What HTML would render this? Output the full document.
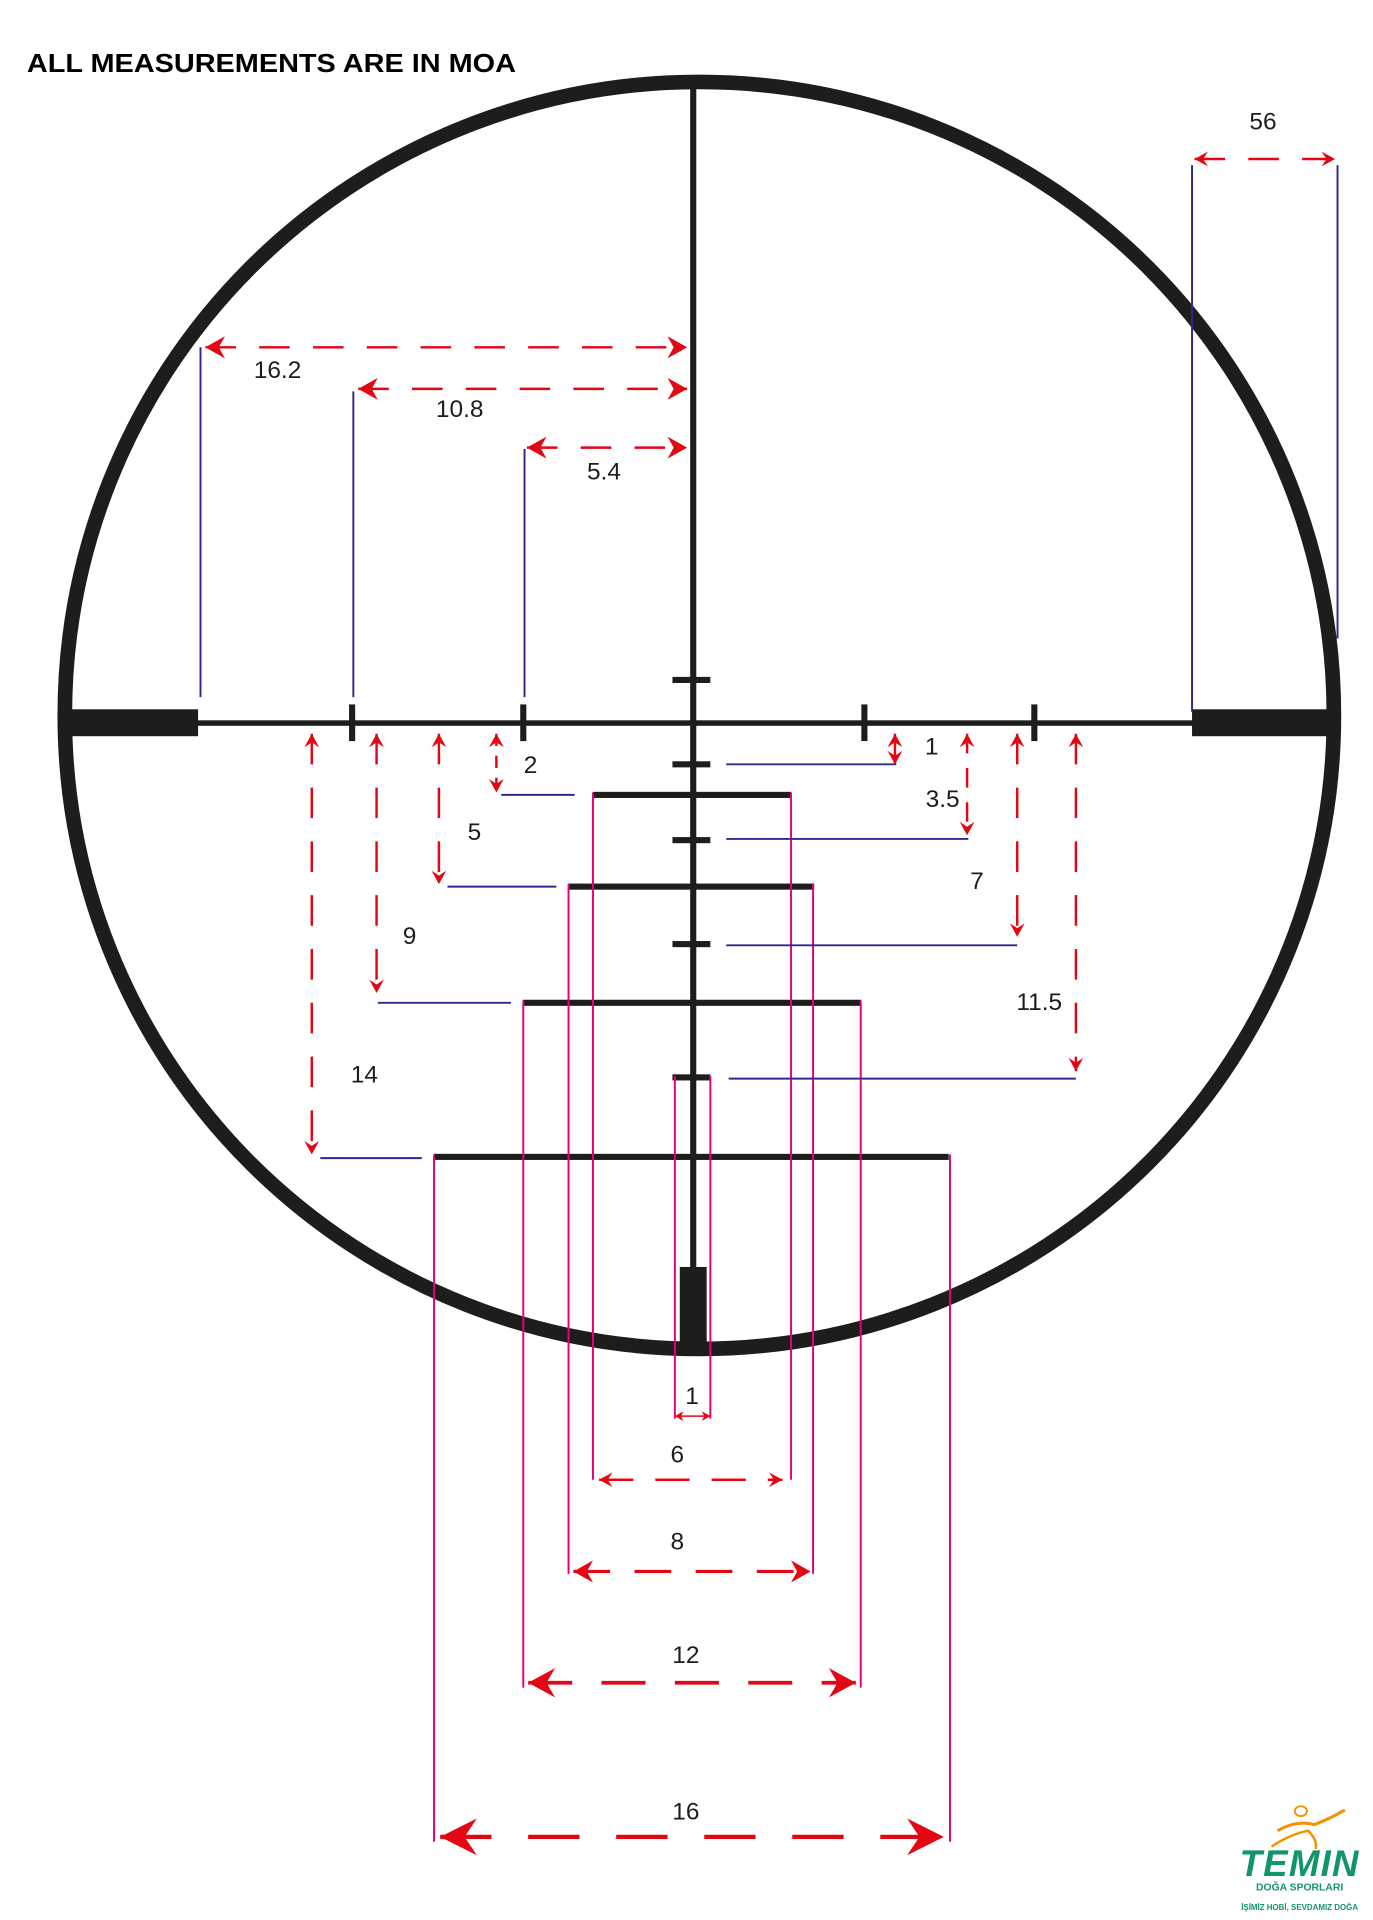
<!DOCTYPE html>
<html><head><meta charset="utf-8"><style>html,body{margin:0;padding:0;background:#fff}svg{display:block}</style></head>
<body>
<svg width="1373" height="1920" viewBox="0 0 1123 1570" preserveAspectRatio="none" xmlns="http://www.w3.org/2000/svg">
<defs>
<marker id="am" markerUnits="userSpaceOnUse" viewBox="-16 -9 17 18" refX="0" refY="0" markerWidth="17" markerHeight="18" orient="auto-start-reverse"><path d="M0,0 L-16,-9 L-11,0 L-16,9 Z" fill="#e30613"/></marker>
<marker id="as" markerUnits="userSpaceOnUse" viewBox="-11 -6 12 12" refX="0" refY="0" markerWidth="12" markerHeight="12" orient="auto-start-reverse"><path d="M0,0 L-11,-6 L-7,0 L-11,6 Z" fill="#e30613"/></marker>
<marker id="at" markerUnits="userSpaceOnUse" viewBox="-7 -4 8 8" refX="0" refY="0" markerWidth="8" markerHeight="8" orient="auto-start-reverse"><path d="M0,0 L-7,-4 L-5,0 L-7,4 Z" fill="#e30613"/></marker>
<marker id="al" markerUnits="userSpaceOnUse" viewBox="-22 -12 23 24" refX="0" refY="0" markerWidth="23" markerHeight="24" orient="auto-start-reverse"><path d="M0,0 L-22,-12 L-15,0 L-22,12 Z" fill="#e30613"/></marker>
<marker id="ax" markerUnits="userSpaceOnUse" viewBox="-30 -15 31 30" refX="0" refY="0" markerWidth="31" markerHeight="30" orient="auto-start-reverse"><path d="M0,0 L-30,-15 L-20,0 L-30,15 Z" fill="#e30613"/></marker>
</defs>
<text x="22" y="59" font-family="Liberation Sans, sans-serif" font-weight="bold" font-size="21" fill="#000" textLength="400" lengthAdjust="spacingAndGlyphs">ALL MEASUREMENTS ARE IN MOA</text>

<ellipse cx="572" cy="585" rx="519" ry="518" fill="none" stroke="#1d1d1b" stroke-width="12"/>

<g fill="#1d1d1b">
<rect x="55" y="589" width="1035" height="4.5"/>
<rect x="57" y="580" width="105" height="22"/>
<rect x="975" y="580" width="113" height="22"/>
<rect x="564.5" y="68" width="5" height="1035"/>
<rect x="556" y="1036" width="22" height="66"/>
<rect x="285.5" y="576" width="5" height="30"/>
<rect x="425.5" y="576" width="5" height="30"/>
<rect x="704.5" y="576" width="5" height="30"/>
<rect x="843.5" y="576" width="5" height="30"/>
<rect x="550" y="553.5" width="31" height="5"/>
<rect x="550" y="622.5" width="31" height="5"/>
<rect x="550" y="684.5" width="31" height="5"/>
<rect x="550" y="769.5" width="31" height="5"/>
<rect x="550" y="878.5" width="31" height="5"/>
<rect x="485" y="647.5" width="162" height="5"/>
<rect x="465" y="722.5" width="201" height="5"/>
<rect x="428" y="817.5" width="276" height="5"/>
<rect x="355" y="943.5" width="421" height="5"/>
</g>

<g stroke="#e6007e" stroke-width="1.6" fill="none">
<path d="M485,648V1210M647,648V1210M465,723V1287M665,723V1287M428,818V1380M704,818V1380M355,944V1506M777,944V1506M552,880V1160M581,880V1160"/>
</g>

<g stroke="#2e2a8a" stroke-width="1.6" fill="none">
<path d="M164,284V570M289,320V570M429,367V570M975,135V582M1094,135V522"/>
<path d="M262,947H345M309,820H418M366,725H455M410,650H470"/>
<path d="M594,625H733M594,686H792M594,773H832M596,882H880"/>
</g>

<g stroke="#e30613" fill="none">
<path d="M168,284H562" stroke-width="2" stroke-dasharray="25,19" marker-start="url(#am)" marker-end="url(#am)"/>
<path d="M293,318H562" stroke-width="2" stroke-dasharray="25,19" marker-start="url(#am)" marker-end="url(#am)"/>
<path d="M431,366H562" stroke-width="2" stroke-dasharray="25,19" marker-start="url(#am)" marker-end="url(#am)"/>
<path d="M977,130H1092" stroke-width="2" stroke-dasharray="25,19" marker-start="url(#as)" marker-end="url(#as)"/>
<path d="M255,600V944" stroke-width="2" stroke-dasharray="25,19" marker-start="url(#as)" marker-end="url(#as)"/>
<path d="M308,600V812" stroke-width="2" stroke-dasharray="25,19" marker-start="url(#as)" marker-end="url(#as)"/>
<path d="M359,600V723" stroke-width="2" stroke-dasharray="25,19" marker-start="url(#as)" marker-end="url(#as)"/>
<path d="M406,600V648" stroke-width="2" stroke-dasharray="10,8" marker-start="url(#as)" marker-end="url(#as)"/>
<path d="M732,600V625" stroke-width="2" marker-start="url(#as)" marker-end="url(#as)"/>
<path d="M791,600V683" stroke-width="2" stroke-dasharray="16,12" marker-start="url(#as)" marker-end="url(#as)"/>
<path d="M832,600V766" stroke-width="2" stroke-dasharray="25,19" marker-start="url(#as)" marker-end="url(#as)"/>
<path d="M880,600V876" stroke-width="2" stroke-dasharray="25,19" marker-start="url(#as)" marker-end="url(#as)"/>
<path d="M552,1158H581" stroke-width="1.2" marker-start="url(#at)" marker-end="url(#at)"/>
<path d="M490,1210H640" stroke-width="2" stroke-dasharray="28,18" marker-start="url(#as)" marker-end="url(#as)"/>
<path d="M469,1285H663" stroke-width="2.5" stroke-dasharray="30,20" marker-start="url(#am)" marker-end="url(#am)"/>
<path d="M432,1376H700" stroke-width="3" stroke-dasharray="36,24" marker-start="url(#al)" marker-end="url(#al)"/>
<path d="M360,1502H772" stroke-width="3.5" stroke-dasharray="42,30" marker-start="url(#ax)" marker-end="url(#ax)"/>
</g>

<g font-family="Liberation Sans, sans-serif" font-size="20" fill="#1d1d1b" text-anchor="middle">
<text x="227" y="309">16.2</text>
<text x="376" y="341">10.8</text>
<text x="494" y="392">5.4</text>
<text x="1033" y="106">56</text>
<text x="298" y="885">14</text>
<text x="335" y="772">9</text>
<text x="388" y="687">5</text>
<text x="434" y="632">2</text>
<text x="762" y="617">1</text>
<text x="771" y="660">3.5</text>
<text x="799" y="727">7</text>
<text x="850" y="826">11.5</text>
<text x="566" y="1148">1</text>
<text x="554" y="1196">6</text>
<text x="554" y="1267">8</text>
<text x="561" y="1360">12</text>
<text x="561" y="1488">16</text>
</g>

<g>
<path d="M1045,1497 Q1060,1488 1075,1492 Q1088,1487 1100,1480" stroke="#f39200" stroke-width="2.5" fill="none"/>
<path d="M1040,1510 Q1055,1500 1070,1497 Q1078,1505 1076,1512" stroke="#f39200" stroke-width="2" fill="none"/>
<ellipse cx="1064" cy="1481" rx="5" ry="4" fill="none" stroke="#f39200" stroke-width="1.5"/>
<text x="1063" y="1534" font-family="Liberation Sans, sans-serif" font-weight="bold" font-style="italic" font-size="30" fill="#13956b" text-anchor="middle" letter-spacing="1">TEMIN</text>
<text x="1063" y="1546" font-family="Liberation Sans, sans-serif" font-weight="bold" font-size="8.5" fill="#13956b" text-anchor="middle">DOĞA SPORLARI</text>
<text x="1063" y="1562" font-family="Liberation Sans, sans-serif" font-weight="bold" font-size="6.5" fill="#13956b" text-anchor="middle">İŞİMİZ HOBİ, SEVDAMIZ DOĞA</text>
</g>
</svg>
</body></html>
